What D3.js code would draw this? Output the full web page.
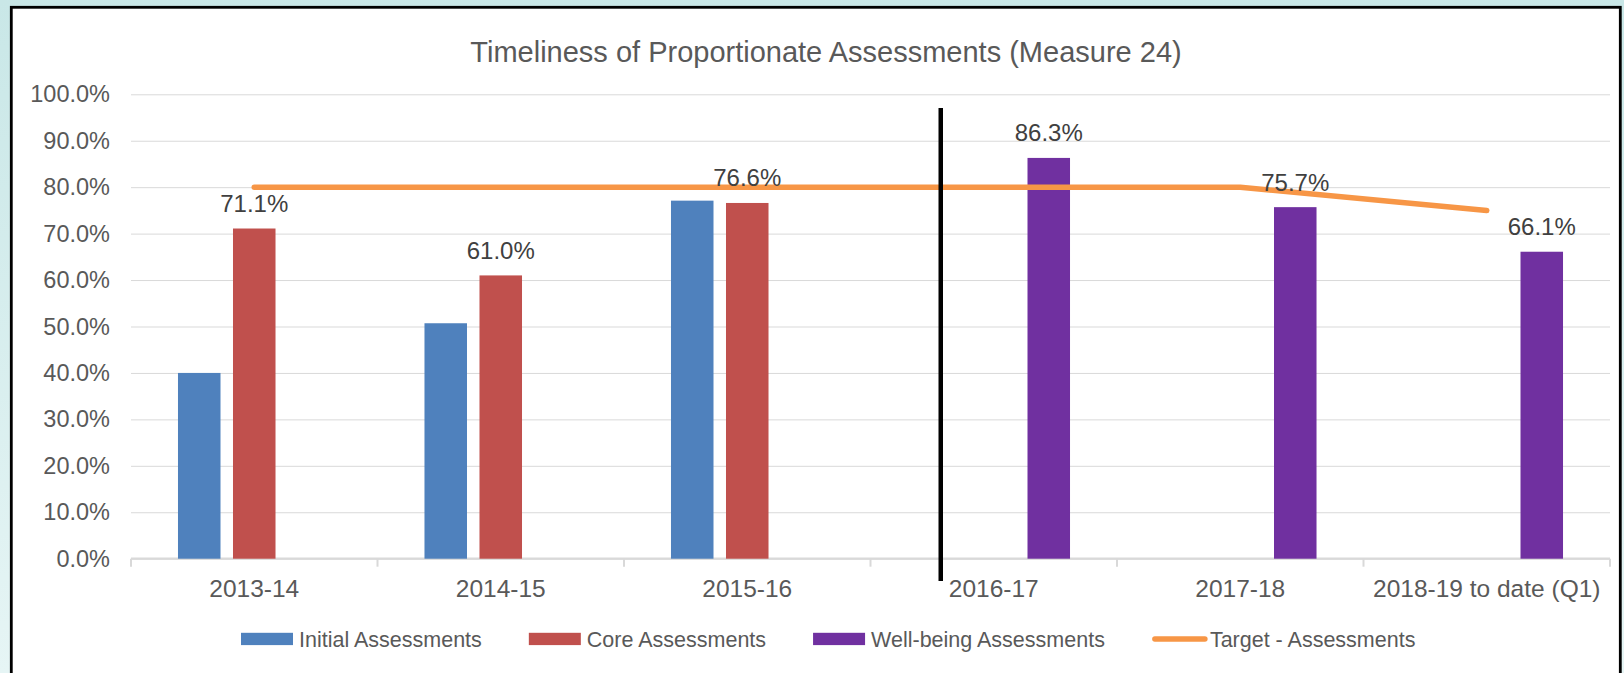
<!DOCTYPE html>
<html>
<head>
<meta charset="utf-8">
<script src="https://cdn.jsdelivr.net/npm/d3@7"></script>
<style>
    body { margin: 0; background: #fff; }
    svg { display: block; font-family: "Liberation Sans", Arial, sans-serif; }
</style>
</head>
<body>
<div id="chart"></div>
<script>
// ---- data ----
const categories = ["2013-14", "2014-15", "2015-16", "2016-17", "2017-18", "2018-19 to date (Q1)"];
const seriesNames = ["Initial Assessments", "Core Assessments", "Well-being Assessments"];
const initialAssessments = [40.0, 50.7, 77.1, null, null, null];
const coreAssessments = [71.1, 61.0, 76.6, null, null, null];
const wellbeingAssessments = [null, null, null, 86.3, 75.7, 66.1];
const targetName = "Target - Assessments";
const targetAssessments = [80, 80, 80, 80, 80, 75];
const yTicks = [0, 10, 20, 30, 40, 50, 60, 70, 80, 90, 100];
const titleText = "Timeliness of Proportionate Assessments (Measure 24)";

// ---- layout / style ----
const W = 1624, H = 673;
const plot = { left: 131, right: 1610, top: 94.3, bottom: 558.7 };
const colors = {
    "Initial Assessments": "#4f81bd",
    "Core Assessments": "#c0504d",
    "Well-being Assessments": "#7030a0",
    target: "#f79646"
};
const labelled = { "Core Assessments": true, "Well-being Assessments": true };

const svg = d3.select("#chart").append("svg")
    .attr("width", W).attr("height", H);

// outer slide background + framed chart area
const defs = svg.append("defs");
const grad = defs.append("linearGradient").attr("id", "bg").attr("x1", 0).attr("y1", 0).attr("x2", 0).attr("y2", 1);
grad.append("stop").attr("offset", "0%").attr("stop-color", "#c9e7e7");
grad.append("stop").attr("offset", "100%").attr("stop-color", "#e6f5f5");
svg.append("rect").attr("width", W).attr("height", H).attr("fill", "url(#bg)");
svg.append("rect")
    .attr("x", 11.3).attr("y", 7.3)
    .attr("width", 1609).attr("height", H + 20)
    .attr("fill", "#fff").attr("stroke", "#000").attr("stroke-width", 2.8);

// scales
const x0 = d3.scaleBand().domain(categories).range([plot.left, plot.right]).padding(0);
const x1 = d3.scaleBand().domain(seriesNames).range([0, x0.bandwidth()])
    .paddingInner(0.227).paddingOuter(0.854);
const y = d3.scaleLinear().domain([0, 100]).range([plot.bottom, plot.top]);

// title
svg.append("text")
    .attr("x", 826).attr("y", 62)
    .attr("text-anchor", "middle")
    .attr("font-size", 29)
    .attr("fill", "#595959")
    .text(titleText);

// y axis with gridlines
const yAxis = svg.append("g")
    .attr("transform", `translate(${plot.left},0)`)
    .call(d3.axisLeft(y).tickValues(yTicks)
        .tickSize(-(plot.right - plot.left))
        .tickPadding(21)
        .tickFormat(d => d.toFixed(1) + "%"));
yAxis.select(".domain").remove();
yAxis.selectAll(".tick line").attr("stroke", "#d9d9d9").attr("stroke-width", 1);
yAxis.selectAll(".tick text")
    .attr("font-size", 23.5).attr("fill", "#595959")
    .attr("font-family", "'Liberation Sans', Arial, sans-serif");

// x axis line + boundary ticks
const xAxis = svg.append("g").attr("transform", `translate(0,${plot.bottom})`)
    .call(d3.axisBottom(x0).tickSize(0).tickPadding(20.6));
xAxis.select(".domain").remove();
xAxis.selectAll(".tick text")
    .attr("font-size", 24.5).attr("fill", "#595959")
    .attr("font-family", "'Liberation Sans', Arial, sans-serif");
svg.append("line")
    .attr("x1", plot.left).attr("x2", plot.right)
    .attr("y1", plot.bottom).attr("y2", plot.bottom)
    .attr("stroke", "#d9d9d9").attr("stroke-width", 2.2);
const bounds = categories.map(c => x0(c)).concat([plot.right]);
svg.append("g").selectAll("line").data(bounds).join("line")
    .attr("x1", d => d).attr("x2", d => d)
    .attr("y1", plot.bottom).attr("y2", plot.bottom + 8)
    .attr("stroke", "#d9d9d9").attr("stroke-width", 2);

// bars
const seriesValues = {
    "Initial Assessments": initialAssessments,
    "Core Assessments": coreAssessments,
    "Well-being Assessments": wellbeingAssessments
};
const barData = [];
seriesNames.forEach(s => {
    seriesValues[s].forEach((v, i) => {
        if (v != null) barData.push({ series: s, cat: categories[i], value: v });
    });
});
svg.append("g").selectAll("rect").data(barData).join("rect")
    .attr("x", d => x0(d.cat) + x1(d.series))
    .attr("y", d => y(d.value))
    .attr("width", x1.bandwidth())
    .attr("height", d => y(0) - y(d.value))
    .attr("fill", d => colors[d.series]);

// target line
const line = d3.line()
    .x((d, i) => x0(categories[i]) + x0.bandwidth() / 2)
    .y(d => y(d));
svg.append("path")
    .datum(targetAssessments)
    .attr("d", line)
    .attr("fill", "none")
    .attr("stroke", colors.target)
    .attr("stroke-width", 5.5)
    .attr("stroke-linecap", "round")
    .attr("stroke-linejoin", "round");

// data labels
svg.append("g").selectAll("text").data(barData.filter(d => labelled[d.series])).join("text")
    .attr("x", d => x0(d.cat) + x1(d.series) + x1.bandwidth() / 2)
    .attr("y", d => y(d.value) - 16.5)
    .attr("text-anchor", "middle")
    .attr("font-size", 24)
    .attr("fill", "#404040")
    .text(d => d.value.toFixed(1) + "%");

// divider between old and new assessment regimes
const divX = x0("2016-17") + 0.285 * x0.bandwidth();
svg.append("line")
    .attr("x1", divX).attr("x2", divX)
    .attr("y1", 108).attr("y2", 581)
    .attr("stroke", "#000").attr("stroke-width", 4.5);

// legend
const legendItems = seriesNames.map(s => ({ name: s, type: "bar" }))
    .concat([{ name: targetName, type: "line" }]);
const legend = svg.append("g").attr("transform", "translate(241,639)");
let lx = 0;
legendItems.forEach(item => {
    const g = legend.append("g").attr("transform", `translate(${lx},0)`);
    if (item.type === "bar") {
        g.append("rect").attr("x", 0).attr("y", -6.2).attr("width", 52).attr("height", 12.3)
            .attr("fill", colors[item.name]);
    } else {
        g.append("line").attr("x1", 3).attr("x2", 53).attr("y1", 0).attr("y2", 0)
            .attr("stroke", colors.target).attr("stroke-width", 5.5)
            .attr("stroke-linecap", "round");
    }
    const t = g.append("text")
        .attr("x", 58).attr("y", 0).attr("dy", "0.35em")
        .attr("font-size", 21.5).attr("fill", "#595959")
        .text(item.name);
    lx += 58 + t.node().getComputedTextLength() + 47;
});
</script>
</body>
</html>
